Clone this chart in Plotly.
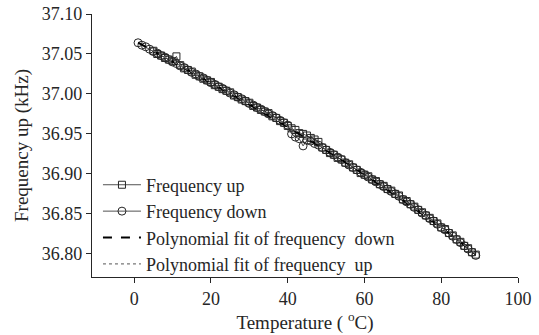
import numpy as np
import plotly.graph_objects as go

temp_down = list(range(1, 90))
freq_down = [37.064, 37.061, 37.059, 37.056, 37.053, 37.051, 37.048, 37.046, 37.043, 37.040,
             37.038, 37.035, 37.033, 37.030, 37.027, 37.025, 37.022, 37.020, 37.017, 37.014,
             37.012, 37.009, 37.007, 37.004, 37.001, 36.999, 36.996, 36.994, 36.991, 36.988,
             36.986, 36.983, 36.981, 36.978, 36.975, 36.973, 36.970, 36.967, 36.964, 36.961,
             36.950, 36.946, 36.944, 36.935, 36.942, 36.941, 36.938, 36.936, 36.933, 36.930,
             36.927, 36.924, 36.921, 36.918, 36.914, 36.911, 36.908, 36.905, 36.902, 36.899,
             36.896, 36.893, 36.890, 36.887, 36.884, 36.881, 36.878, 36.875, 36.872, 36.868,
             36.865, 36.862, 36.858, 36.855, 36.851, 36.848, 36.844, 36.841, 36.837, 36.833,
             36.830, 36.826, 36.822, 36.818, 36.814, 36.810, 36.806, 36.802, 36.798]

temp_up = list(range(5, 90))
freq_up = [37.054, 37.050, 37.048, 37.045, 37.043, 37.041, 37.047, 37.036, 37.032, 37.030,
           37.028, 37.024, 37.022, 37.019, 37.017, 37.015, 37.011, 37.009, 37.006, 37.004,
           37.002, 36.998, 36.996, 36.993, 36.991, 36.989, 36.985, 36.983, 36.980, 36.978,
           36.976, 36.972, 36.970, 36.966, 36.964, 36.960, 36.957, 36.955, 36.951, 36.950,
           36.948, 36.945, 36.943, 36.940, 36.933, 36.930, 36.926, 36.924, 36.920, 36.918,
           36.914, 36.912, 36.908, 36.905, 36.901, 36.899, 36.897, 36.893, 36.891, 36.887,
           36.885, 36.881, 36.879, 36.875, 36.873, 36.868, 36.866, 36.862, 36.859, 36.855,
           36.852, 36.848, 36.845, 36.841, 36.838, 36.833, 36.831, 36.826, 36.823, 36.818,
           36.815, 36.810, 36.807, 36.802, 36.799]

x_ticks = [0, 20, 40, 60, 80, 100]
y_ticks = [36.80, 36.85, 36.90, 36.95, 37.00, 37.05, 37.10]

fit_down = np.polyval(np.polyfit(temp_down, freq_down, 3), temp_down)
fit_up = np.polyval(np.polyfit(temp_up, freq_up, 3), temp_up)

FONT = "Liberation Serif, Times New Roman, Times, serif"
INK = "#262626"

fig = go.Figure()
fig.add_trace(go.Scatter(x=temp_up, y=freq_up, mode="lines+markers", name="Frequency up",
                         line=dict(color=INK, width=0.8),
                         marker=dict(symbol="square-open", size=7, color=INK,
                                     line=dict(width=1))))
fig.add_trace(go.Scatter(x=temp_down, y=freq_down, mode="lines+markers", name="Frequency down",
                         line=dict(color=INK, width=0.8),
                         marker=dict(symbol="circle-open", size=8, color=INK,
                                     line=dict(width=1))))
fig.add_trace(go.Scatter(x=temp_down, y=fit_down, mode="lines",
                         name="Polynomial fit of frequency  down",
                         line=dict(color="#000000", width=2, dash="dash")))
fig.add_trace(go.Scatter(x=temp_up, y=fit_up, mode="lines",
                         name="Polynomial fit of frequency  up",
                         line=dict(color="#777777", width=1.2, dash="dot")))

fig.update_layout(
    width=539, height=335,
    margin=dict(l=92, r=21, t=14, b=58, autoexpand=False),
    plot_bgcolor="white", paper_bgcolor="white",
    font=dict(family=FONT, size=18, color=INK),
    showlegend=True,
    legend=dict(x=0.014, y=0.42, xanchor="left", yanchor="top",
                bgcolor="rgba(0,0,0,0)", font=dict(family=FONT, size=18),
                tracegroupgap=0, itemwidth=38),
    xaxis=dict(range=[-11, 100], tickvals=x_ticks, ticks="outside", ticklen=5,
               tickfont=dict(family=FONT, size=18),
               showline=True, linecolor=INK, linewidth=1.2, showgrid=False,
               zeroline=False, tickcolor=INK, automargin=False,
               title=dict(text="Temperature ( <sup>o</sup>C)", standoff=4,
                          font=dict(family=FONT, size=19))),
    yaxis=dict(range=[36.771, 37.10], tickvals=y_ticks, tickformat=".2f",
               ticks="outside", ticklen=5,
               tickfont=dict(family=FONT, size=18),
               showline=True, linecolor=INK, linewidth=1.2, showgrid=False,
               zeroline=False, tickcolor=INK, automargin=False,
               title=dict(text="Frequency up (kHz)", standoff=8,
                          font=dict(family=FONT, size=19))),
)

fig.write_html("out.html", config={"displayModeBar": False},
               post_script="document.body.style.margin='0';document.body.style.overflow='hidden';")
